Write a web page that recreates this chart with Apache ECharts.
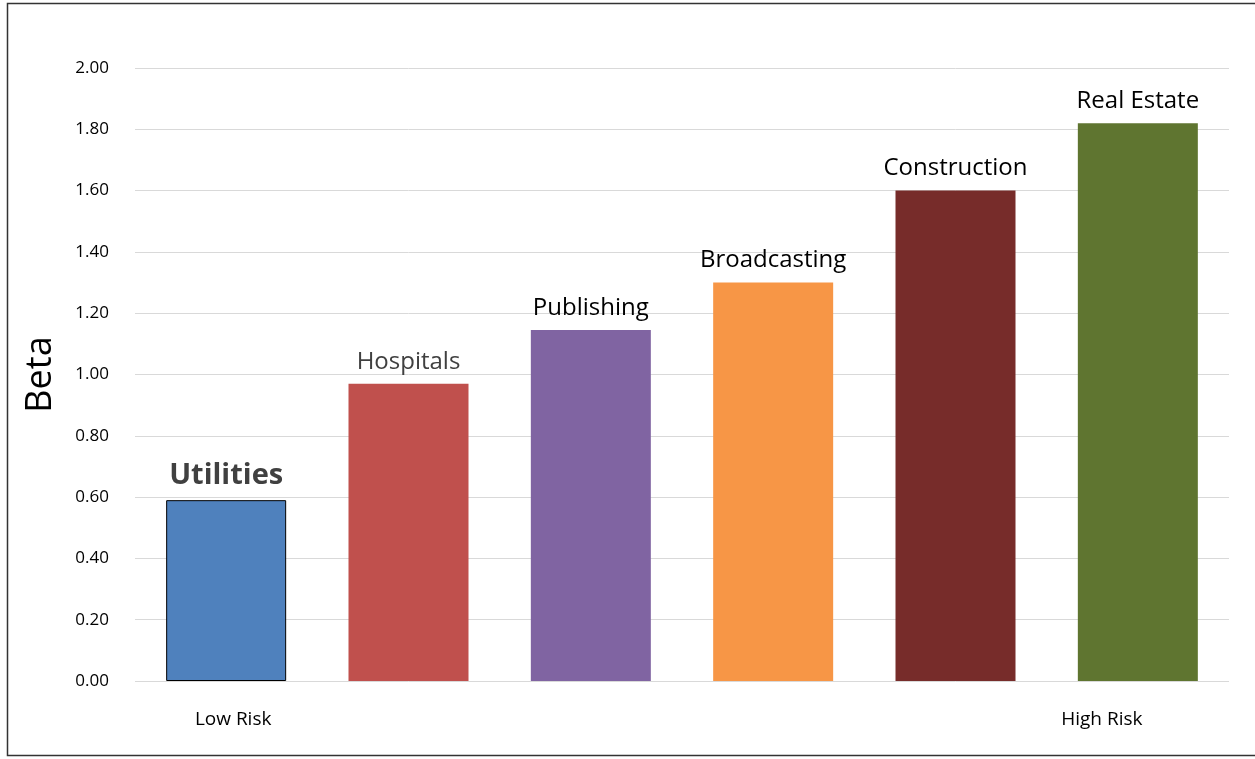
<!DOCTYPE html>
<html>
<head>
<meta charset="utf-8">
<script src="https://cdn.jsdelivr.net/npm/echarts@6/dist/echarts.min.js"></script>
<style>
html,body{margin:0;padding:0;background:#fff;}
#main{width:1255px;height:759px;}
</style>
</head>
<body>
<div id="main"></div>
<script>
const categories = ['Utilities', 'Hospitals', 'Publishing', 'Broadcasting', 'Construction', 'Real Estate'];
const betaValues = [0.59, 0.97, 1.145, 1.30, 1.60, 1.82];
const riskLabels = ['Low Risk', '', '', '', '', 'High Risk'];
const barColors = ['#4F81BD', '#C0504D', '#8064A2', '#F79646', '#772C2A', '#5F7530'];

const chart = echarts.init(document.getElementById('main'));
const font = '"Open Sans", "Noto Sans", sans-serif';

const labelStyles = [
  {fontSize: 29, fontWeight: 'bold', color: '#404040'},
  {fontSize: 24, fontWeight: 'normal', color: '#404040'},
  {fontSize: 24, fontWeight: 'normal', color: '#000'},
  {fontSize: 24, fontWeight: 'normal', color: '#000'},
  {fontSize: 24, fontWeight: 'normal', color: '#000'},
  {fontSize: 24, fontWeight: 'normal', color: '#000'}
];

const data = betaValues.map((v, i) => ({
  value: v,
  itemStyle: {
    color: barColors[i],
    borderColor: i === 0 ? '#000' : 'transparent',
    borderWidth: i === 0 ? 1 : 0
  },
  label: Object.assign({show: true, position: 'top', distance: 10, fontFamily: font,
    formatter: categories[i]}, labelStyles[i])
}));

chart.setOption({
  animation: false,
  backgroundColor: '#fff',
  graphic: [{
    type: 'rect',
    shape: {x: 7.5, y: 3.5, width: 1260, height: 752},
    style: {fill: 'none', stroke: '#333', lineWidth: 1.5},
    silent: true
  }],
  grid: {left: 135, right: 26, top: 68, bottom: 78, containLabel: false},
  xAxis: {
    type: 'category',
    data: riskLabels,
    axisLine: {show: false},
    axisTick: {show: false},
    axisLabel: {
      interval: 0,
      margin: 29,
      fontFamily: font,
      fontSize: 19,
      color: '#000',
      formatter: function (v, idx) {
        if (idx === 0) return '{lo|' + v + '}';
        if (idx === 5) return '{hi|' + v + '}';
        return v;
      },
      rich: {
        lo: {fontFamily: font, fontSize: 19, color: '#000', padding: [0, 0, 0, 14]},
        hi: {fontFamily: font, fontSize: 19, color: '#000', padding: [0, 72, 0, 0]}
      }
    }
  },
  yAxis: {
    type: 'value',
    min: 0,
    max: 2,
    interval: 0.2,
    name: 'Beta',
    nameLocation: 'middle',
    nameGap: 76,
    nameTextStyle: {fontFamily: font, fontSize: 36, color: '#000'},
    axisLine: {show: false},
    axisTick: {show: false},
    axisLabel: {
      margin: 26,
      fontFamily: font,
      fontSize: 17,
      color: '#000',
      formatter: v => v.toFixed(2)
    },
    splitLine: {lineStyle: {color: '#D9D9D9', width: 1}}
  },
  series: [{
    type: 'bar',
    data: data,
    barWidth: 120
  }]
});
</script>
</body>
</html>
